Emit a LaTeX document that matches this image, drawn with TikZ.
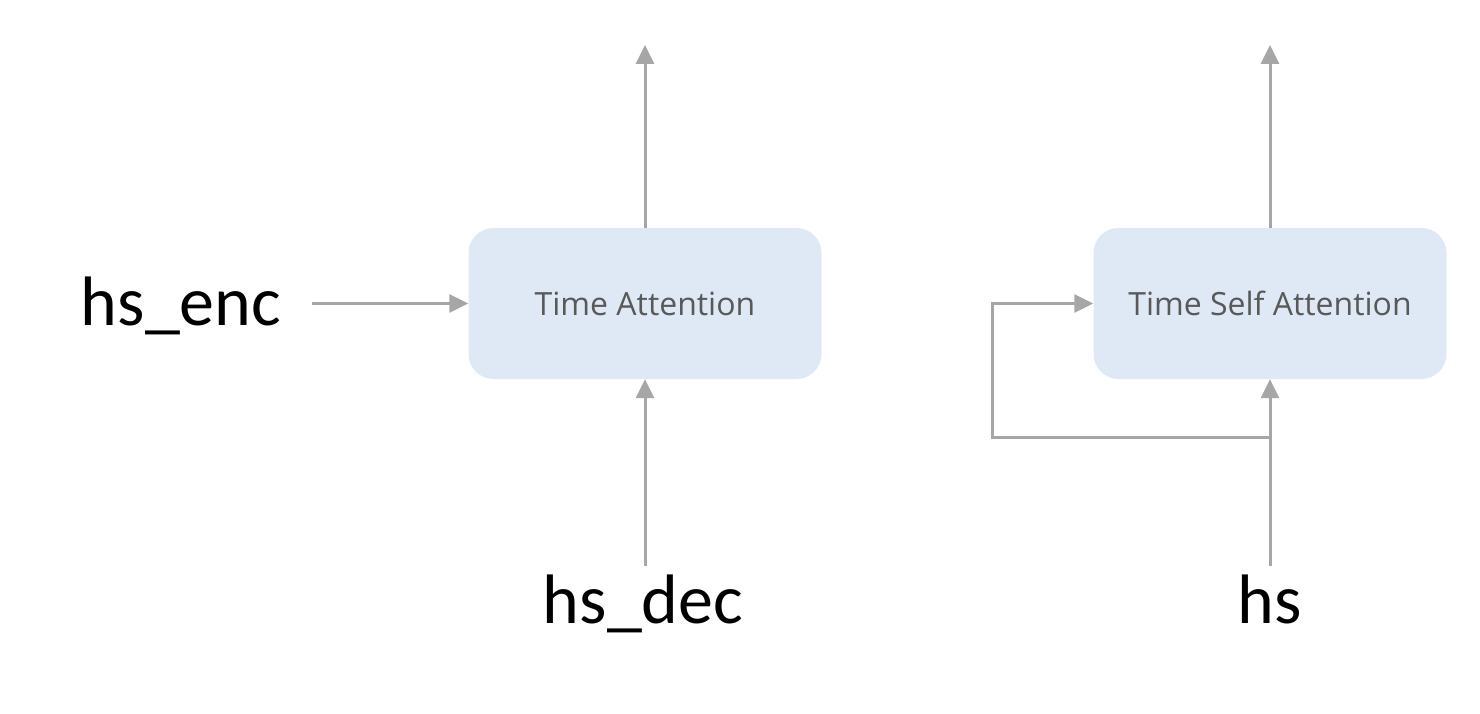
\documentclass[tikz,border=0pt]{standalone}
\usepackage{fontspec}
\setmainfont{Carlito}
\newfontfamily\boxfont{Open Sans}
\usepackage{tikz}
\usetikzlibrary{arrows.meta,positioning}
\tikzset{>={Triangle[width=18pt,length=19pt]}}
\definecolor{flowgray}{HTML}{A6A6A6}
\definecolor{boxblue}{HTML}{DFE9F5}
\definecolor{boxtext}{HTML}{595959}

\begin{document}
\begin{tikzpicture}[x=1pt, y=-1pt,
  attn/.style={fill=boxblue, rounded corners=25pt, minimum width=353pt,
    minimum height=151pt, inner sep=0pt, font=\boxfont\fontsize{32}{38}\selectfont,
    text=boxtext},
  lbl/.style={font=\fontsize{70}{84}\selectfont, inner xsep=31pt, inner ysep=8pt,
    anchor=base},
  flow/.style={->, draw=flowgray, line width=3pt, color=flowgray}]

  \useasboundingbox (0,0) rectangle (1480,714);

  % boxes
  \node[attn] (ta)  at (645, 303.5) {Time Attention};
  \node[attn] (tsa) at (1270, 303.5) {Time Self Attention};

  % inputs
  \node[lbl] (enc) at (181, 325) {hs\_enc};
  \node[lbl] (dec) at (643, 623) {hs\_dec};
  \node[lbl] (hs)  at (1270, 623) {hs};

  % free ends
  \coordinate (taout)  at (645, 45);
  \coordinate (tsaout) at (1270, 45);
  \coordinate (split)  at (1270, 437);
  \coordinate (loop)   at (992, 303.5);

  \draw[flow] (enc.east |- ta.west) -- (ta.west); % enc -> ta
  \draw[flow] (dec.north -| ta.south) -- (ta.south); % dec -> ta
  \draw[flow] (ta.north) -- (taout);

  \draw[flow] (hs.north -| tsa.south) -- (tsa.south); % hs -> tsa
  \draw[flow] (split) -| (loop) -- (tsa.west); % hs -> tsa (self)
  \draw[flow] (tsa.north) -- (tsaout);

\end{tikzpicture}
\end{document}
